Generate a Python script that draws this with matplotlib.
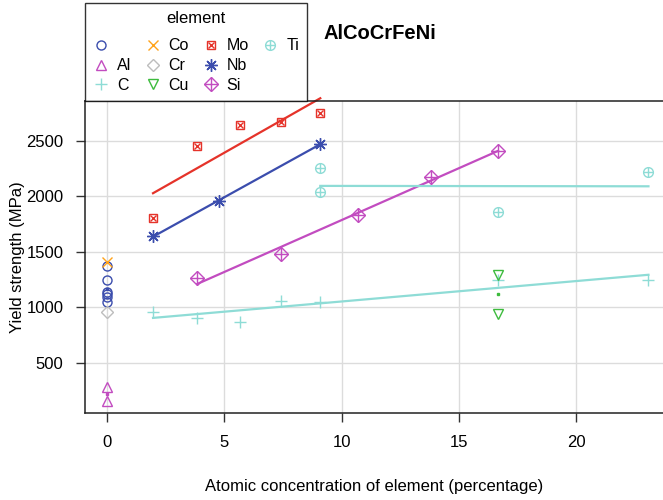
import numpy as np
import matplotlib
matplotlib.use("Agg")
import matplotlib.pyplot as plt
from matplotlib.lines import Line2D

plt.rcParams['font.family'] = ['Liberation Sans', 'DejaVu Sans']

# data: atomic % of added element vs yield strength (MPa)
elements = ['', 'Al', 'C', 'Co', 'Cr', 'Cu', 'Mo', 'Nb', 'Si', 'Ti']
conc = {
    '':   [0, 0, 0, 0, 0, 0],
    'Al': [0, 0],
    'C':  [1.96, 3.85, 5.66, 7.41, 9.09, 16.67, 23.08],
    'Co': [0],
    'Cr': [0],
    'Cu': [16.67, 16.67],
    'Mo': [1.96, 3.85, 5.66, 7.41, 9.09],
    'Nb': [1.96, 4.76, 9.09],
    'Si': [3.85, 7.41, 10.71, 13.79, 16.67],
    'Ti': [9.09, 9.09, 16.67, 23.08],
}
strength = {
    '':   [1370, 1245, 1140, 1115, 1090, 1045],
    'Al': [278, 151],
    'C':  [959, 903, 863, 1052, 1050, 1245, 1248],
    'Co': [1404],
    'Cr': [960],
    'Cu': [1290, 940],
    'Mo': [1800, 2455, 2644, 2665, 2752],
    'Nb': [1638, 1959, 2470],
    'Si': [1260, 1476, 1831, 2176, 2410],
    'Ti': [2257, 2038, 1854, 2218],
}

# style per element (lattice-like symbols)
blue, magenta, cyan = '#3B4DAD', '#C24CC0', '#8EDCD6'
colors = {'': blue, 'Al': magenta, 'C': cyan, 'Co': '#FFA31A', 'Cr': '#BDBDBD',
          'Cu': '#3DBB3D', 'Mo': '#E5332A', 'Nb': blue, 'Si': magenta, 'Ti': cyan}
symbols = {
    '':   [('o', 6.5)],
    'Al': [('^', 7.5)],
    'C':  [('+', 9)],
    'Co': [('x', 6.5)],
    'Cr': [('D', 6)],
    'Cu': [('v', 7.5)],
    'Mo': [('s', 6), ('x', 4.5)],
    'Nb': [((8, 2, 0), 9)],
    'Si': [('D', 7), ('+', 9.5)],
    'Ti': [('o', 7), ('+', 7)],
}

fig = plt.figure(figsize=(6.63, 5.0), dpi=100)
ax = fig.add_axes([85 / 663, 87 / 500, 578 / 663, 312 / 500])

for el in elements:
    x = np.array(conc[el], dtype=float)
    y = np.array(strength[el], dtype=float)
    c = colors[el]
    for m, s in symbols[el]:
        ax.plot(x, y, ls='none', marker=m, ms=s, mfc='none', mec=c, mew=1.0, zorder=3)
    # regression line per element
    if len(x) > 1:
        if np.ptp(x) > 0:
            k, b = np.polyfit(x, y, 1)
            xs = np.array([x.min(), x.max()])
            ax.plot(xs, k * xs + b, color=c, lw=1.6, zorder=2, clip_on=False)
        else:
            ax.plot([x[0]], [y.mean()], ls='none', marker='s', ms=1.6, mfc=c, mec=c, zorder=2)

ax.set_xlim(-0.94, 23.7)
ax.set_ylim(47, 2858)
ax.set_xticks([0, 5, 10, 15, 20])
ax.set_yticks([500, 1000, 1500, 2000, 2500])
ax.grid(True, color='#DCDCDC', lw=1.0, zorder=0)
ax.set_axisbelow(True)
ax.tick_params(direction='out', length=6.5, width=1.0, color='#333333',
               labelsize=12, pad=9)
for side in ['left', 'bottom', 'top']:
    ax.spines[side].set_linewidth(1.1)
    ax.spines[side].set_color('#222222')
ax.spines['right'].set_visible(False)

ax.set_xlabel('Atomic concentration of element (percentage)', fontsize=12, labelpad=21)
ax.set_ylabel('Yield strength (MPa)', fontsize=12, labelpad=1)

fig.text(323 / 663, 1 - 33 / 500, 'AlCoCrFeNi', fontsize=14.5, fontweight='bold',
         ha='left', va='center')

# legend, column-major with blank slots to fill the last column
handles = []
for el in elements:
    hs = tuple(Line2D([], [], ls='none', marker=m, ms=s, mfc='none', mec=colors[el], mew=1.0)
               for m, s in symbols[el])
    handles.append(hs)
labels = list(elements)
for _ in range(2):
    handles.append(Line2D([], [], ls='none'))
    labels.append('')

leg = fig.legend(handles, labels, title='element', ncol=4, loc='lower left',
                 bbox_to_anchor=(85 / 663, 1 - 101 / 500), frameon=True, fancybox=False,
                 edgecolor='black', fontsize=11.5, title_fontsize=12,
                 handlelength=1.0, handletextpad=0.5, columnspacing=0.85,
                 labelspacing=0.3, borderpad=0.5, borderaxespad=0)
leg.get_frame().set_linewidth(1.0)
leg._legend_box.sep = 9  # a bit more room under the title

fig.savefig('out.png', dpi=100)
